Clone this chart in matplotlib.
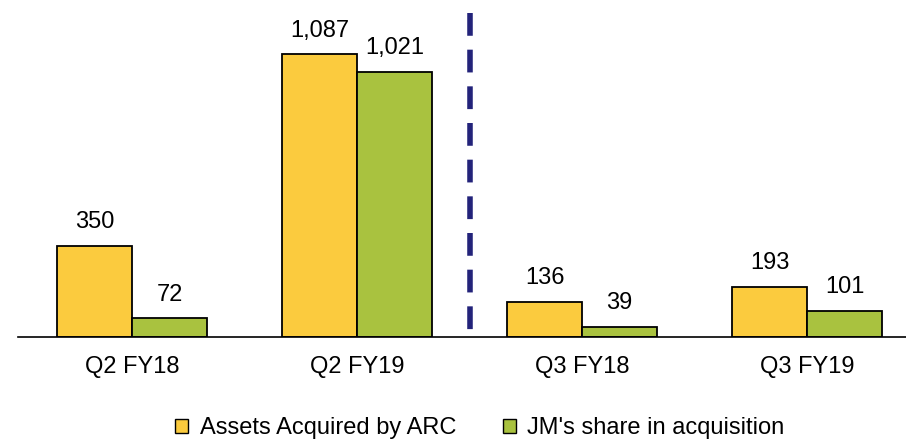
import numpy as np
import matplotlib.pyplot as plt
from matplotlib.patches import Patch

plt.rcParams['font.family'] = ['Liberation Sans', 'DejaVu Sans']

categories = ['Q2 FY18', 'Q2 FY19', 'Q3 FY18', 'Q3 FY19']
assets_arc = [350, 1087, 136, 193]
jm_share = [72, 1021, 39, 101]
series_names = ['Assets Acquired by ARC', "JM's share in acquisition"]

yellow = '#FBCB3E'
green = '#A9C23F'
fs = 17

fig = plt.figure(figsize=(9.06, 4.41), dpi=100)
ax = fig.add_axes([18 / 906, 104 / 441, 888 / 906, 337 / 441])

x = np.arange(len(categories))
w = 1 / 3
b1 = ax.bar(x - w / 2, assets_arc, w, color=yellow, edgecolor='black', linewidth=1.3)
b2 = ax.bar(x + w / 2, jm_share, w, color=green, edgecolor='black', linewidth=1.3)

for bars, vals in ((b1, assets_arc), (b2, jm_share)):
    for r, v in zip(bars, vals):
        ax.annotate(f'{v:,}', (r.get_x() + r.get_width() / 2, v),
                    xytext=(0, 9), textcoords='offset points',
                    ha='center', va='bottom', fontsize=fs)

# separator between Q2 and Q3 (drawn top-down so dashes start at the top)
ax.plot([1.5, 1.5], [1246, 0], color='#23237A', linewidth=4,
        linestyle=(0, (4.1, 2.5)), solid_capstyle='butt')

ax.set_xlim(-0.507, 3.44)
ax.set_ylim(0, 1296)
ax.set_xticks(x)
ax.set_xticklabels(categories, fontsize=fs)
ax.tick_params(axis='x', length=0, pad=13.5)
ax.set_yticks([])
for s in ('top', 'right', 'left'):
    ax.spines[s].set_visible(False)
ax.spines['bottom'].set_linewidth(1.2)

handles = [Patch(facecolor=yellow, edgecolor='black'),
           Patch(facecolor=green, edgecolor='black')]
fig.legend(handles, series_names, loc='center', bbox_to_anchor=(480 / 906, 1 - 428 / 441),
           ncol=2, frameon=False, fontsize=fs, handlelength=0.55, handleheight=0.55,
           handletextpad=0.47, columnspacing=2.0, borderpad=0)

fig.savefig('out.png', dpi=100)
